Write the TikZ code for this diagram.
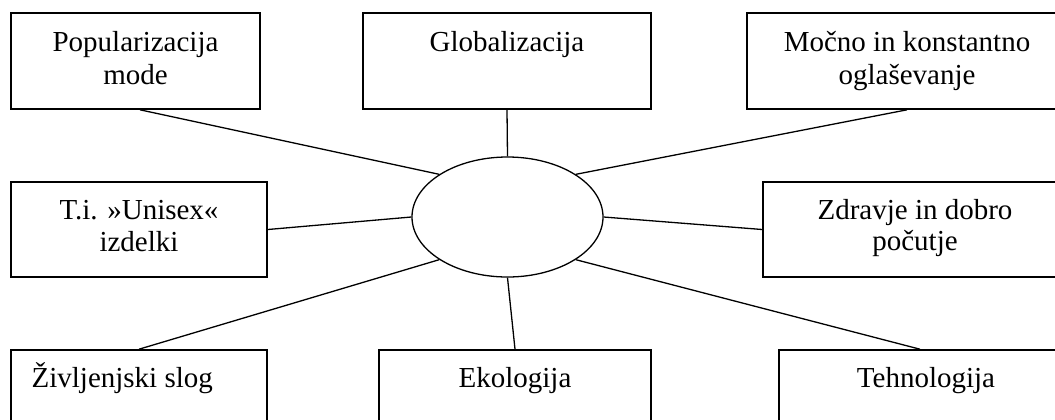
\documentclass[tikz,border=0pt]{standalone}
\usepackage{fontspec}
\setmainfont{Liberation Serif}
\usetikzlibrary{shapes.geometric}
\begin{document}
\begin{tikzpicture}[x=0.5pt,y=-0.5pt,
  box/.style={draw, line width=0.8pt, rectangle, inner sep=0pt, minimum height=48pt},
  txt/.style={anchor=base, inner sep=0pt, font=\fontsize{14.5pt}{16.5pt}\selectfont},
  conn/.style={line width=0.65pt}]
\useasboundingbox (0,0) rectangle (1055,419);
\clip (0,0) rectangle (1055,419);
% central ellipse
\node[draw, ellipse, line width=0.65pt, inner sep=0pt, minimum width=95.5pt, minimum height=60pt] (e) at (507.5,217) {};
% boxes
\node[box, minimum width=124.5pt] (b1) at (135.5,61) {};
\node[box, minimum width=144pt]   (b2) at (507,61) {};
\node[box, minimum width=160pt]   (b3) at (907,61) {};
\node[box, minimum width=128pt, minimum height=47.5pt] (b4) at (139,229.5) {};
\node[box, minimum width=152pt, minimum height=47.5pt] (b7) at (915,229.5) {};
\node[box, minimum width=128pt]   (b5) at (139,398) {};
\node[box, minimum width=136pt]   (b6) at (515,398) {};
\node[box, minimum width=147pt]   (b8) at (926,398) {};
% texts
\node[txt] (t1a) at ([yshift=-19.5pt]b1.north) {Popularizacija};
\node[txt] (t1b) at ([yshift=-36pt]b1.north) {mode};
\node[txt] (t2)  at ([yshift=-19.5pt]b2.north) {Globalizacija};
\node[txt] (t3a) at ([yshift=-19.5pt]b3.north) {Močno in konstantno};
\node[txt] (t3b) at ([yshift=-36pt]b3.north) {oglaševanje};
\node[txt] (t4a) at ([yshift=-19pt]b4.north) {T.i. »Unisex«};
\node[txt] (t4b) at ([yshift=-35pt]b4.north) {izdelki};
\node[txt] (t7a) at ([yshift=-19pt]b7.north) {Zdravje in dobro};
\node[txt] (t7b) at ([yshift=-34.5pt]b7.north) {počutje};
\node[txt, anchor=base west] (t5) at ([xshift=10.5pt,yshift=-19pt]b5.north west) {Življenjski slog};
\node[txt] (t6)  at ([yshift=-19pt]b6.north) {Ekologija};
\node[txt] (t8)  at ([yshift=-19pt]b8.north) {Tehnologija};
% connectors
\draw[conn] ([xshift=2.25pt]b1.south) -- (e.148);
\draw[conn] (b2.south) -- (e.north);
\draw[conn] (b3.south) -- (e.32.5);
\draw[conn] (b4.east) -- (e.west);
\draw[conn] (b7.west) -- (e.east);
\draw[conn] (b5.north) -- (e.212);
\draw[conn] (b6.north) -- (e.south);
\draw[conn] ([xshift=-3pt]b8.north) -- (e.328);
\end{tikzpicture}
\end{document}
